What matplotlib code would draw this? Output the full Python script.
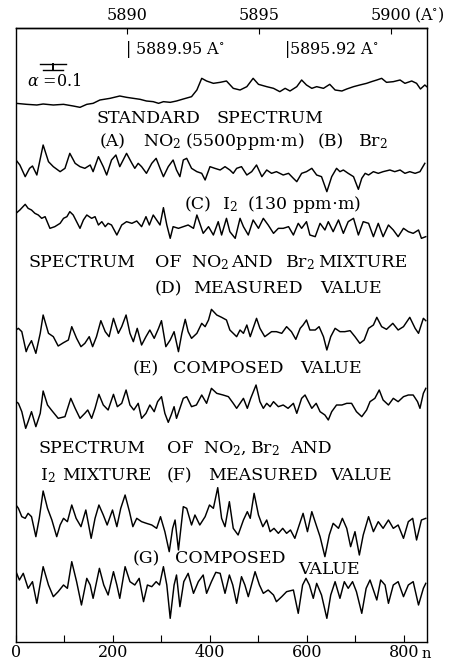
import matplotlib
matplotlib.use("Agg")
import matplotlib.pyplot as plt
from matplotlib.lines import Line2D

plt.rcParams['font.family'] = ['DejaVu Serif', 'DejaVu Sans']
plt.rcParams['mathtext.fontset'] = 'dejavuserif'

# ---------------- data (channel number n, trace reading; readings grow downward) ----
std_n = [0, 22, 43, 56, 77, 98, 118, 132, 146, 159, 173, 194, 214, 228, 242, 256, 269, 283, 294, 304,
         318, 331, 345, 362, 373, 383, 393, 407, 421, 434, 448, 462, 476, 489, 500, 517, 531, 544, 555, 565,
         579, 589, 599, 610, 620, 634, 647, 658, 672, 682, 696, 709, 723, 733, 744, 754, 764, 778, 792, 802,
         816, 826, 834, 843, 847]
std_v = [85, 88, 90, 87, 90, 88, 93, 97, 88, 85, 75, 70, 63, 67, 70, 73, 78, 80, 85, 80,
         82, 78, 72, 65, 45, 10, 18, 25, 22, 18, 40, 45, 35, 10, 28, 35, 40, 50, 40, 48,
         35, 15, 30, 40, 35, 40, 28, 45, 48, 42, 35, 30, 25, 20, 15, 10, 22, 20, 15, 25,
         18, 25, 42, 30, 35]

ab_n = [0, 8, 19, 28, 34, 43, 56, 67, 77, 91, 101, 111, 122, 132, 142, 153, 159, 170, 180, 187,
        197, 206, 214, 221, 228, 239, 245, 252, 259, 269, 280, 289, 297, 304, 314, 324, 331, 338, 345, 352,
        362, 373, 383, 390, 400, 410, 421, 431, 441, 448, 455, 465, 476, 486, 496, 507, 517, 527, 537, 551,
        562, 572, 579, 589, 599, 610, 620, 630, 641, 651, 661, 668, 675, 685, 696, 706, 713, 720, 727, 737,
        747, 757, 771, 781, 792, 802, 812, 823, 833, 843]
ab_v = [60, 75, 110, 85, 78, 105, 15, 65, 80, 95, 85, 40, 70, 80, 85, 75, 95, 50, 80, 105,
        60, 45, 80, 60, 40, 70, 85, 70, 80, 100, 70, 55, 85, 110, 80, 60, 90, 110, 60, 55,
        85, 95, 100, 120, 80, 85, 90, 80, 90, 100, 85, 80, 105, 95, 75, 110, 90, 100, 95, 105,
        100, 115, 125, 100, 95, 85, 105, 110, 155, 110, 85, 95, 90, 100, 110, 148, 115, 100, 105, 95,
        100, 95, 90, 95, 90, 100, 95, 100, 95, 70]

c_n = [0, 8, 19, 25, 32, 39, 46, 53, 60, 70, 80, 91, 98, 105, 111, 118, 125, 132, 139, 146,
       156, 163, 170, 177, 184, 190, 197, 208, 218, 228, 239, 249, 259, 268, 275, 283, 290, 297, 304, 311,
       318, 324, 335, 345, 355, 366, 373, 379, 386, 397, 407, 417, 424, 434, 441, 452, 462, 469, 479, 489,
       500, 510, 520, 531, 541, 551, 562, 572, 582, 589, 599, 606, 617, 627, 637, 644, 654, 665, 675, 685,
       696, 706, 716, 727, 737, 747, 757, 768, 778, 788, 799, 809, 819, 830, 836, 845]
c_v = [55, 45, 28, 40, 45, 55, 60, 70, 65, 100, 95, 85, 70, 65, 50, 60, 80, 100, 75, 60,
       70, 65, 90, 80, 95, 85, 90, 120, 90, 80, 85, 78, 95, 65, 90, 60, 75, 90, 38, 90,
       130, 95, 100, 95, 90, 100, 60, 85, 115, 95, 120, 80, 120, 70, 110, 130, 70, 95, 120, 75,
       100, 70, 90, 115, 100, 100, 95, 120, 85, 100, 80, 120, 125, 85, 105, 80, 110, 75, 115, 80,
       70, 120, 80, 85, 125, 85, 125, 90, 105, 125, 100, 110, 115, 105, 130, 125]

d_n = [0, 5, 12, 21, 25, 32, 41, 50, 56, 63, 67, 77, 87, 98, 108, 115, 125, 134, 142, 151,
       158, 166, 175, 184, 192, 201, 211, 218, 227, 235, 242, 250, 259, 268, 276, 285, 294, 300, 309, 318,
       326, 335, 342, 349, 355, 362, 373, 383, 390, 397, 403, 414, 424, 434, 441, 448, 455, 462, 469, 476,
       483, 496, 503, 513, 527, 537, 548, 558, 568, 577, 586, 592, 599, 606, 617, 625, 634, 641, 649, 658,
       668, 678, 689, 699, 709, 718, 727, 737, 744, 754, 764, 777, 788, 799, 812, 823, 830, 840, 845]
d_v = [90, 85, 95, 155, 140, 122, 160, 100, 45, 80, 100, 110, 138, 128, 120, 80, 115, 140, 130, 110,
       140, 110, 62, 95, 110, 55, 100, 80, 45, 100, 125, 85, 135, 110, 90, 115, 85, 62, 140, 120,
       95, 155, 100, 58, 95, 115, 100, 70, 80, 60, 28, 45, 52, 60, 90, 100, 110, 90, 100, 75,
       110, 55, 85, 110, 95, 95, 100, 80, 95, 118, 85, 75, 60, 90, 90, 80, 110, 150, 110, 85,
       95, 95, 92, 110, 130, 120, 85, 75, 52, 80, 88, 70, 90, 80, 52, 85, 100, 55, 62]

e_n = [0, 5, 12, 20, 25, 32, 41, 50, 56, 65, 73, 87, 101, 113, 122, 132, 142, 148, 156, 163,
       171, 180, 190, 201, 209, 218, 227, 235, 243, 252, 259, 268, 276, 285, 292, 300, 307, 314, 320, 326,
       331, 338, 345, 352, 362, 372, 383, 393, 403, 414, 427, 438, 448, 455, 462, 469, 477, 484, 495, 503,
       510, 517, 524, 531, 541, 551, 561, 572, 579, 589, 596, 603, 610, 619, 627, 637, 644, 651, 661, 672,
       682, 692, 702, 713, 723, 730, 740, 749, 757, 768, 778, 788, 799, 809, 819, 828, 833, 840, 845]
e_v = [50, 55, 80, 130, 110, 80, 125, 85, 18, 60, 75, 100, 95, 40, 70, 100, 85, 75, 100, 70,
       28, 60, 75, 28, 65, 55, 15, 60, 75, 55, 100, 85, 60, 80, 50, 35, 85, 112, 90, 65,
       100, 70, 40, 35, 65, 60, 30, 55, 10, 25, 30, 35, 55, 70, 55, 40, 70, 40, 0, 50,
       70, 55, 65, 50, 65, 60, 70, 55, 85, 40, 30, 50, 70, 55, 80, 90, 105, 80, 60, 60,
       55, 55, 80, 95, 75, 50, 40, 15, 45, 60, 40, 50, 35, 30, 30, 50, 70, 25, 10]

f_n = [0, 5, 12, 19, 25, 32, 41, 48, 56, 65, 74, 84, 91, 98, 106, 115, 124, 134, 144, 155,
       163, 171, 180, 188, 199, 208, 216, 225, 234, 241, 249, 259, 269, 280, 290, 298, 307, 316, 323, 328,
       335, 345, 352, 362, 369, 379, 390, 399, 407, 416, 424, 431, 440, 448, 458, 469, 477, 483, 491, 500,
       509, 517, 524, 532, 541, 550, 558, 566, 575, 584, 592, 601, 610, 619, 627, 637, 646, 654, 665, 673,
       682, 690, 699, 708, 716, 727, 737, 747, 757, 768, 778, 788, 799, 809, 818, 826, 836, 845]
f_v = [60, 70, 95, 100, 85, 95, 155, 100, 18, 70, 105, 155, 120, 100, 110, 60, 100, 125, 75, 160,
       100, 60, 90, 120, 75, 125, 70, 30, 80, 125, 100, 110, 115, 120, 130, 95, 140, 200, 130, 105,
       195, 65, 70, 120, 90, 120, 95, 60, 70, 8, 100, 125, 50, 130, 150, 105, 80, 100, 25, 90,
       125, 105, 140, 130, 145, 130, 145, 135, 160, 120, 85, 140, 80, 120, 155, 215, 150, 115, 130, 100,
       130, 185, 140, 210, 150, 95, 140, 110, 130, 105, 130, 120, 160, 110, 100, 165, 105, 100]

g_n = [0, 7, 15, 25, 34, 43, 56, 67, 77, 87, 98, 106, 115, 125, 135, 146, 153, 159, 172, 181,
       190, 201, 208, 214, 225, 235, 245, 254, 263, 271, 280, 289, 296, 304, 311, 318, 326, 331, 338, 346,
       355, 366, 376, 386, 393, 403, 412, 421, 431, 440, 447, 455, 465, 472, 479, 493, 502, 510, 520, 531,
       537, 548, 558, 572, 582, 591, 598, 605, 613, 620, 630, 641, 649, 658, 668, 677, 685, 694, 702, 713,
       722, 730, 744, 752, 761, 768, 778, 788, 799, 809, 819, 830, 840, 845]
g_v = [260, 285, 265, 310, 290, 355, 245, 300, 335, 320, 300, 310, 230, 290, 360, 280, 300, 340, 250, 300,
       330, 260, 300, 340, 245, 290, 300, 280, 350, 300, 305, 290, 300, 245, 300, 400, 300, 270, 365, 290,
       265, 325, 290, 270, 325, 290, 262, 265, 325, 270, 300, 355, 275, 300, 335, 260, 300, 325, 315, 330,
       350, 335, 320, 315, 385, 300, 280, 300, 340, 295, 330, 400, 330, 290, 340, 290, 310, 290, 320, 385,
       310, 285, 345, 285, 300, 355, 300, 290, 335, 300, 290, 360, 310, 295]

bottom_ticks = [0, 200, 400, 600, 800]
bottom_minor = [100, 300, 500, 700]
top_ticks = [5890, 5895, 5900]

# ---------------- layout ----------------
W, H = 454, 664
fig = plt.figure(figsize=(W / 100, H / 100), dpi=100)
fig.patch.set_facecolor('white')

def fx(px):
    return px / W

def fy(py):
    return 1 - py / H

ax = fig.add_axes([fx(15.5), fy(642), fx(427) - fx(15.5), fy(28) - fy(642)])
ax.set_xlim(-1, 847.5)
ax.set_ylim(1842, 0)

traces = [(std_n, std_v, 141), (ab_n, ab_v, 336), (c_n, c_v, 501),
          (d_n, d_v, 816), (e_n, e_v, 1071), (f_n, f_v, 1371), (g_n, g_v, 1371)]
for xs, vs, off in traces:
    ax.plot(xs, [off + v for v in vs], color='black', lw=1.05, solid_joinstyle='round')

for s in ax.spines.values():
    s.set_linewidth(1.0)
ax.set_yticks([])
ax.set_xticks(bottom_ticks)
ax.set_xticks(bottom_minor, minor=True)
ax.tick_params(axis='x', which='both', direction='in', length=5, width=0.8, pad=1.5,
               labelsize=11.5)

N0, NPA = 229.0, 54.4
sec = ax.secondary_xaxis('top', functions=(lambda n: 5890 + (n - N0) / NPA,
                                          lambda l: N0 + (l - 5890) * NPA))
sec.set_xticks(top_ticks)
sec.tick_params(direction='in', length=4, width=0.8, pad=3, labelsize=11.5)
sec.spines['top'].set_linewidth(1.0)

fig.text(fx(414), fy(15), '(A$^{\\circ}$)', fontsize=11.5, ha='left', va='center')
fig.text(fx(422), fy(654), 'n', fontsize=10.5, ha='left', va='center')

# scale bar
fig.add_artist(Line2D([fx(40), fx(66)], [fy(64), fy(64)], color='black', lw=1.0))
fig.add_artist(Line2D([fx(43), fx(63)], [fy(69.5), fy(69.5)], color='black', lw=1.0))
fig.add_artist(Line2D([fx(53), fx(53)], [fy(64), fy(69.5)], color='black', lw=1.4))
fig.text(fx(27), fy(82), r'$\alpha$ =0.1', fontsize=11.5, ha='left', va='center')

fig.text(fx(125), fy(50), '| 5889.95 A$^{\\circ}$', fontsize=11.5, ha='left', va='center')
fig.text(fx(284), fy(50), '|5895.92 A$^{\\circ}$', fontsize=11.5, ha='left', va='center')

# annotation words (left edge px, baseline row px, text)
fs = 12.5
words = [
    (97, 123, 'STANDARD'), (217, 123, 'SPECTRUM'),
    (100, 146, '(A)'), (143, 146, 'NO$_2$'), (185, 146, '(5500ppm$\\cdot$m)'),
    (318, 146, '(B)'), (358, 146, 'Br$_2$'),
    (185, 209, '(C)'), (222, 209, 'I$_2$'), (247, 209, '(130 ppm$\\cdot$m)'),
    (28, 267, 'SPECTRUM'), (155, 267, 'OF'), (191, 267, 'NO$_2$'), (231, 267, 'AND'),
    (285, 267, 'Br$_2$'), (318, 267, 'MIXTURE'),
    (155, 293, '(D)'), (193, 293, 'MEASURED'), (320, 293, 'VALUE'),
    (133, 373, '(E)'), (173, 373, 'COMPOSED'), (300, 373, 'VALUE'),
    (38, 453, 'SPECTRUM'), (167, 453, 'OF'), (203, 453, 'NO$_2$,'), (250, 453, 'Br$_2$'),
    (290, 453, 'AND'),
    (40, 480, 'I$_2$'), (62, 480, 'MIXTURE'), (167, 480, '(F)'), (208, 480, 'MEASURED'),
    (330, 480, 'VALUE'),
    (133, 563, '(G)'), (175, 563, 'COMPOSED'), (298, 574, 'VALUE'),
]
for x, y, t in words:
    fig.text(fx(x), fy(y), t, fontsize=fs, ha='left', va='baseline')

fig.savefig('out.png', dpi=100, facecolor='white')
